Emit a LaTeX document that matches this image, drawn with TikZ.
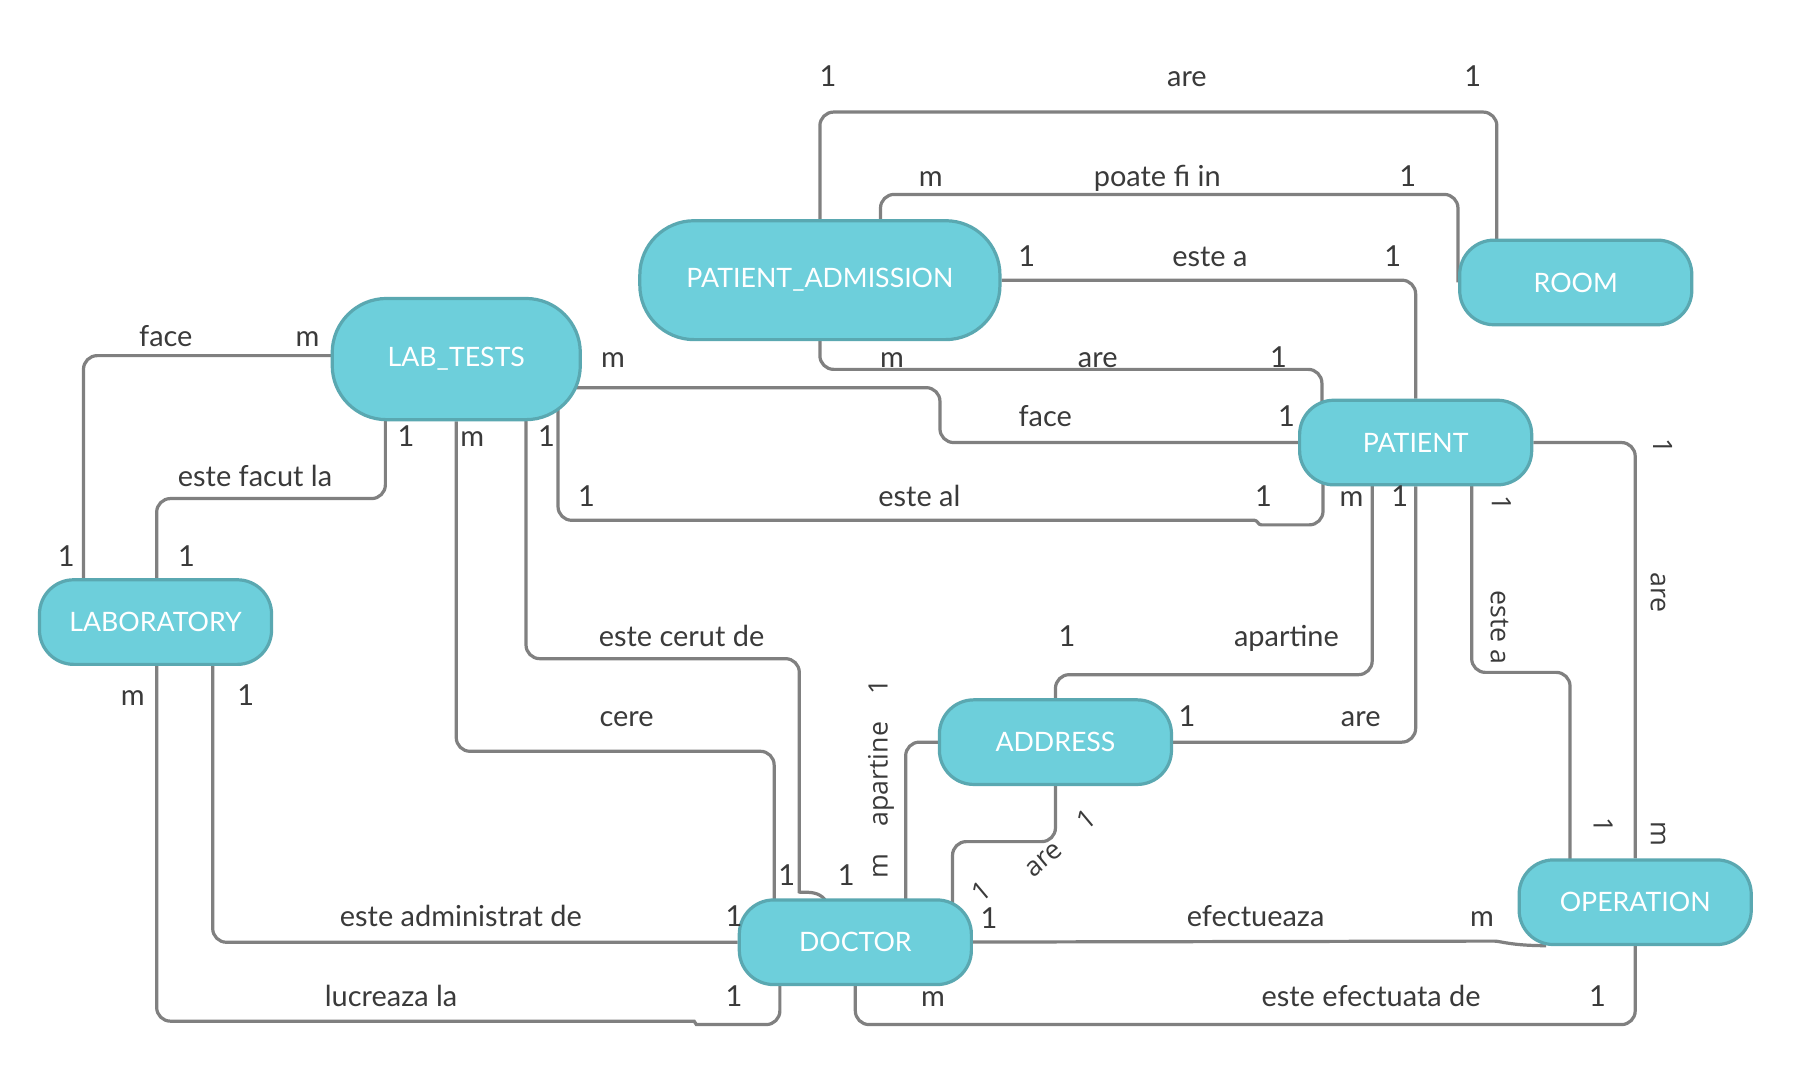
\documentclass[tikz,border=0pt]{standalone}
\usepackage{fontspec}
\setmainfont{Lato}
\newfontfamily\rotfont{Open Sans}
\usetikzlibrary{backgrounds}
\definecolor{boxfill}{HTML}{6DCFDB}
\definecolor{boxline}{HTML}{5AA8B1}
\definecolor{linkgray}{HTML}{808080}
\definecolor{labelgray}{HTML}{3A3A3A}

\begin{document}
\begin{tikzpicture}[x=0.02cm, y=-0.02cm, font=\fontsize{14.4pt}{17pt}\selectfont]
\tikzset{entity/.style={draw=boxline, fill=boxfill, line width=1.6pt,
    rounded corners=0.6cm, text=white, inner sep=0pt,
    font=\fontsize{13.3pt}{16pt}\selectfont,
    minimum width=4.06cm, minimum height=1.48cm},
  bigentity/.style={entity, rounded corners=0.95cm},
  link/.style={draw=linkgray, line width=1.6pt, rounded corners=0.24cm},
  lbl/.style={text=labelgray, inner sep=0pt, text height=0.72em, text depth=0pt},
  rlbl/.style={lbl, font=\rotfont\fontsize{13.3pt}{16pt}\selectfont}
}
\useasboundingbox (0,0) rectangle (1568,944);

\node[bigentity, minimum width=6.3cm, minimum height=2.08cm] (adm) at (717,245) {PATIENT\_ADMISSION};
\node[bigentity, minimum width=4.34cm, minimum height=2.12cm] (tests) at (399,314) {LAB\_TESTS};
\node[entity] (room) at (1378,247) {ROOM};
\node[entity] (pat) at (1238,387) {PATIENT};
\node[entity] (lab) at (136,544) {LABORATORY};
\node[entity] (addr) at (923,649) {ADDRESS};
\node[entity] (doc) at (748,824) {DOCTOR};
\node[entity] (oper) at (1430,789) {OPERATION};

\begin{scope}[on background layer]
\draw[link] (adm) |- (1309,98) -- (room -| 1309,0);
\draw[link] (adm -| 770,0) |- (1275,170) -- (room.west -| 1275,0);
\draw[link] (adm) -| (pat);
\draw[link] (adm) |- (1156,323) -- (pat -| 1156,0);
\draw[link] (tests |- 0,339) -- (822,339) |- (pat);
\draw[link] (tests -| 488,0) |- (1085,455) .. controls (1100,455) and (1100,459) .. (1115,459) -| (pat -| 1157,0);
\draw[link] (tests |- 0,311) -| (lab -| 73,0);
\draw[link] (tests -| 337,0) |- (137,436) -- (lab -| 137,0);
\draw[link] (tests) |- (677,657) -- (doc -| 677,0);
\draw[link] (tests -| 460,0) |- (699,576) -- (699,768) .. controls (699,782) and (725,774) .. (725,800);
\draw[link] (lab -| 186,0) |- (doc);
\draw[link] (lab -| 137,0) |- (595,893) .. controls (608,893) and (608,896) .. (621,896) -| (doc -| 682,0);
\draw[link] (pat -| 1200,0) |- (923,590) -- (addr);
\draw[link] (pat) |- (addr);
\draw[link] (pat -| 1287,0) |- (1373,588) -- (oper -| 1373,0);
\draw[link] (pat) -| (oper);
\draw[link] (addr) -| (doc -| 792,0);
\draw[link] (addr) |- (833,736) -- (doc -| 833,0);
\draw[link] (doc) -- (1295,823) .. controls (1312,823) and (1322,827) .. (1352,827);
\draw[link] (doc) |- (oper |- 0,896) -- (oper);
\end{scope}

% cardinalities and relation names
\foreach \px/\py/\txt [count=\i] in {724/69/1, 1038/69/are, 1288/69/1,
    814/157/m, 1012/157/poate fi in, 1231/157/1,
    898/227/1, 1058/227/este a, 1218/227/1,
    780/315/m, 960/315/are, 1118/315/1,
    536/315/m, 914/367/face, 1125/367/1,
    478/384/1, 513/437/1, 804/437/este al, 1105/437/1,
    145/297/face, 269/297/m, 58/489/1,
    355/384/1, 223/419/este facut la, 163/489/1,
    413/384/m, 548/629/cere, 688/768/1,
    596/559/este cerut de, 740/768/1,
    215/611/1, 403/804/este administrat de, 642/804/1,
    116/611/m, 342/874/lucreaza la, 642/874/1,
    1182/437/m, 933/559/1, 1125/559/apartine,
    1224/437/1, 1038/629/1, 1190/629/are,
    865/806/1, 1098/804/efectueaza, 1296/804/m,
    816/874/m, 1199/874/este efectuata de, 1397/874/1}
  \node[lbl] (t\i) at (\px,\py) {\txt};

\foreach \px/\py/\txt [count=\i] in {1311/440/1, 1310/549/este a, 1400/722/1,
    1452/390/1, 1450/518/are, 1450/729/m}
  \node[rlbl, rotate=-90] (d\i) at (\px,\py) {\txt};
\foreach \px/\py/\txt [count=\i] in {770/601/1, 770/677/apartine, 770/757/m}
  \node[rlbl, rotate=90] (u\i) at (\px,\py) {\txt};
\foreach \px/\py/\txt [count=\i] in {951/718/1, 913/752/are, 859/781/1}
  \node[rlbl, rotate=40] (s\i) at (\px,\py) {\txt};
\end{tikzpicture}
\end{document}
